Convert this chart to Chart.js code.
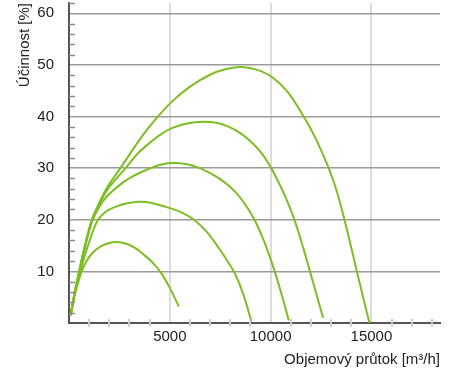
<!DOCTYPE html>
<html>
<head>
<meta charset="utf-8">
<script src="https://cdn.jsdelivr.net/npm/chart.js@4"></script>
<style>
  body { margin: 0; background: #fff; }
  #wrap { width: 454px; height: 369px; position: relative; }
</style>
</head>
<body>
<div id="wrap"><canvas id="ucinnost"></canvas></div>
<script>
// flow rate [m3/h] and efficiency [%], one pair per curve
var x1 = [80, 300, 630, 900, 1220, 1600, 2000, 2350, 2800, 3250, 3720, 4150, 4550, 5000, 5450];
var y1 = [1.5, 5.6, 10, 12.2, 13.8, 14.9, 15.5, 15.7, 15.4, 14.6, 13.2, 11.7, 9.8, 6.8, 3.2];

var x2 = [80, 300, 560, 900, 1380, 1800, 2300, 2900, 3500, 4050, 5050, 5650, 6200, 6800, 7380, 8200, 8650, 9050];
var y2 = [1.5, 6, 10, 14.5, 19.6, 21.5, 22.5, 23.2, 23.5, 23.3, 22.2, 21.3, 20, 17.8, 14.8, 9.8, 5.5, 0.3];

var x3 = [80, 300, 520, 800, 1130, 1500, 1900, 2630, 3200, 3800, 4400, 5050, 5800, 6550, 7200, 7700, 8200, 8700, 9200, 9700, 10200, 10600, 10900];
var y3 = [1.5, 6.2, 10, 14.8, 19.5, 22.5, 24.6, 27.1, 28.5, 29.6, 30.5, 31.0, 30.8, 29.9, 28.6, 27.3, 25.6, 23.2, 20, 15.6, 10, 4.8, 0.5];

var x4 = [80, 300, 500, 800, 1130, 1500, 1900, 2400, 2800, 3400, 3970, 4500, 5130, 5900, 6650, 7300, 7880, 8500, 9000, 9550, 10000, 10300, 10750, 11200, 11600, 11950, 12300, 12600];
var y4 = [1.5, 6.3, 10, 15, 19.8, 23, 25.8, 28.2, 30, 32.8, 34.8, 36.4, 37.8, 38.7, 39.0, 38.8, 38.1, 36.8, 35.2, 32.9, 30.2, 28.0, 24.3, 19.8, 14.8, 10, 5.2, 1];

var x5 = [80, 300, 500, 800, 1130, 1500, 1900, 2550, 3130, 3700, 4300, 5050, 6000, 7000, 7800, 8550, 9300, 10050, 10880, 11700, 12300, 12900, 13300, 13650, 14000, 14300, 14600, 14900];
var y5 = [1.5, 6.3, 10, 15.2, 20, 23.3, 26.3, 30, 33.4, 36.6, 39.5, 42.7, 45.8, 48.1, 49.2, 49.6, 49.1, 47.7, 44.6, 39.6, 35.2, 29.8, 25.3, 20.2, 14.6, 9.6, 4.8, 0];

var xTicks = [5000, 10000, 15000];
var yTicks = [10, 20, 30, 40, 50, 60];

var green = '#7cbf22';
var font = 'Arial, "Liberation Sans", sans-serif';

function pts(xs, ys) {
    return xs.map(function(x, i){ return {x: x, y: ys[i]}; });
}

function curve(xs, ys) {
    return {
        data: pts(xs, ys),
        borderColor: green,
        borderWidth: 2,
        pointRadius: 0,
        fill: false,
        tension: 0.3
    };
}

// small ticks between the labelled ones
var minorTicks = {
    id: 'minorTicks',
    afterDraw: function(chart){
        var c = chart.ctx, xs = chart.scales.x, ys = chart.scales.y;
        var ax = chart.chartArea.left, ay = chart.chartArea.bottom;
        c.save();
        c.lineWidth = 1.5;
        c.strokeStyle = '#8a8a8a';
        for (var v = 2; v <= 62; v += 2) {
            if (v % 10 === 0 && v <= 60) continue;
            var py = Math.round(ys.getPixelForValue(v)) + 0.5;
            c.beginPath(); c.moveTo(ax, py); c.lineTo(ax + 6, py); c.stroke();
        }
        c.lineWidth = 2;
        c.strokeStyle = '#cfcfcf';
        for (var u = 1000; u <= 18000; u += 1000) {
            if (u % 5000 === 0) continue;
            var px = Math.round(xs.getPixelForValue(u));
            c.beginPath(); c.moveTo(px, ay - 4); c.lineTo(px, ay + 4); c.stroke();
        }
        c.restore();
    }
};

function noPad(s) {
    s.paddingTop = 0; s.paddingBottom = 0; s.paddingLeft = 0; s.paddingRight = 0;
}

var chart = new Chart(document.getElementById('ucinnost').getContext('2d'), {
    type: 'line',
    data: {
        datasets: [curve(x1, y1), curve(x2, y2), curve(x3, y3), curve(x4, y4), curve(x5, y5)]
    },
    options: {
        responsive: true,
        maintainAspectRatio: false,
        animation: false,
        layout: { padding: { left: 16, right: 14, top: 3, bottom: 0 } },
        plugins: { legend: { display: false }, tooltip: { enabled: false } },
        scales: {
            x: {
                type: 'linear',
                min: 0,
                max: 18400,
                afterBuildTicks: function(s){ s.ticks = xTicks.map(function(v){ return {value: v}; }); },
                afterFit: function(s){ s.height = 46; noPad(s); },
                grid: { color: '#dcdcdc', lineWidth: 2, drawTicks: false },
                border: { color: '#555', width: 2 },
                ticks: {
                    color: '#222', font: { family: font, size: 15 }, padding: 5, maxRotation: 0,
                    callback: function(v){ return String(v); }
                },
                title: {
                    display: true, text: 'Objemový průtok [m³/h]', align: 'end',
                    color: '#222', font: { family: font, size: 15 }, padding: { top: 1, bottom: 0 }
                }
            },
            y: {
                min: 0,
                max: 62,
                afterBuildTicks: function(s){ s.ticks = yTicks.map(function(v){ return {value: v}; }); },
                afterFit: function(s){ s.width = 53; noPad(s); },
                grid: { color: '#9a9a9a', lineWidth: 1.5, drawTicks: false },
                border: { color: '#555', width: 2 },
                ticks: { color: '#222', font: { family: font, size: 15 }, padding: 15 },
                title: {
                    display: true, text: 'Účinnost [%]', align: 'end',
                    color: '#222', font: { family: font, size: 15 }, padding: 0
                }
            }
        }
    },
    plugins: [minorTicks]
});
</script>
</body>
</html>
